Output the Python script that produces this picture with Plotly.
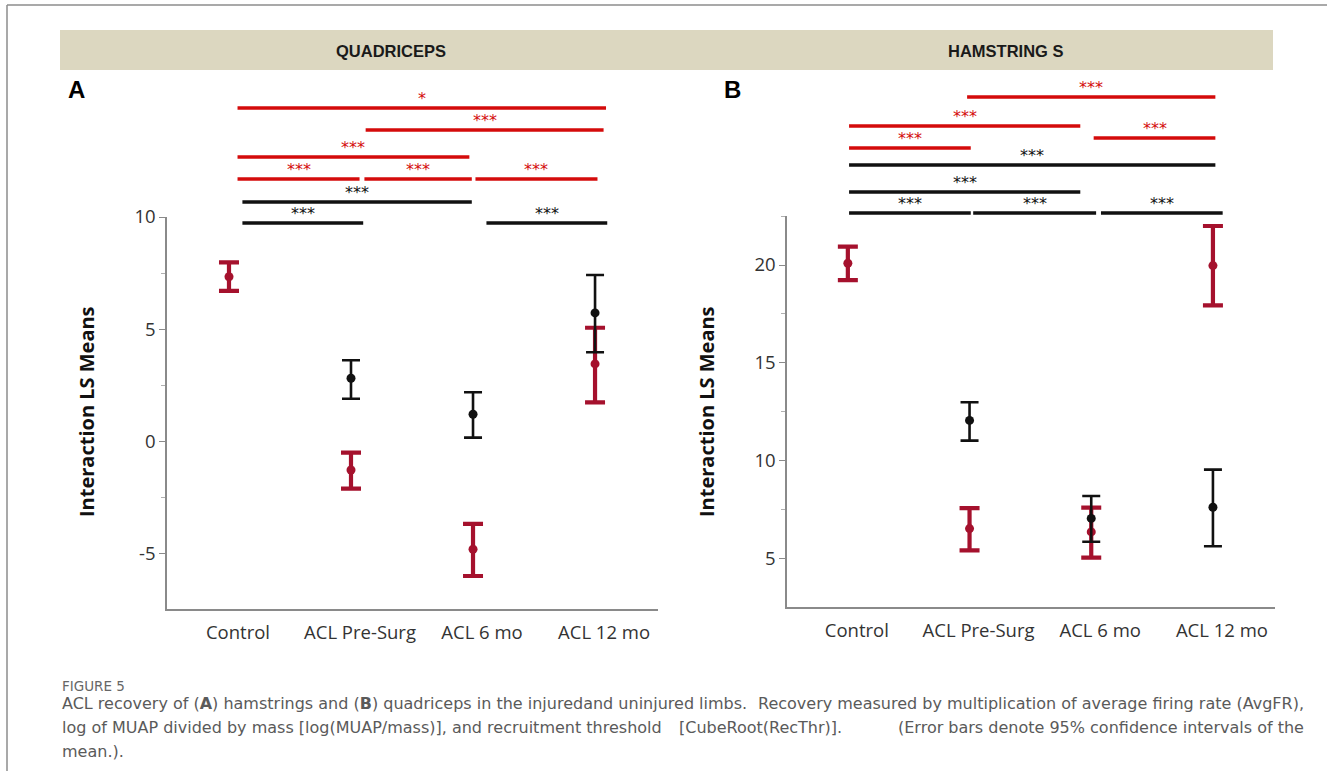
import plotly.graph_objects as go

# ---------------- data ----------------
categories = ["Control", "ACL Pre-Surg", "ACL 6 mo", "ACL 12 mo"]
cat_idx = [0, 1, 2, 3]

# Quadriceps (panel A)
quad_red_mean = [7.34, -1.26, -4.79, 3.46]
quad_red_upper = [7.98, -0.49, -3.66, 5.07]
quad_red_lower = [6.71, -2.09, -5.98, 1.75]
quad_black_idx = [1, 2, 3]
quad_black_mean = [2.82, 1.22, 5.73]
quad_black_upper = [3.62, 2.20, 7.42]
quad_black_lower = [1.91, 0.18, 3.98]

# Hamstrings (panel B)
ham_red_mean = [20.09, 6.55, 6.38, 19.97]
ham_red_upper = [20.94, 7.59, 7.62, 21.99]
ham_red_lower = [19.23, 5.44, 5.07, 17.94]
ham_black_idx = [1, 2, 3]
ham_black_mean = [12.07, 7.07, 7.64]
ham_black_upper = [13.00, 8.21, 9.56]
ham_black_lower = [11.04, 5.88, 5.65]

quad_ticks = [-5, 0, 5, 10]
quad_ticklabels = ["-5", "0", "5", "10"]
ham_ticks = [5, 10, 15, 20]
ham_ticklabels = ["5", "10", "15", "20"]

# significance comparisons: (x start, x end in category units, label, colour key, pixel row)
quad_sig = [
    (0.07, 3.09, "*", "red", 108),
    (1.12, 3.07, "***", "red", 130),
    (0.07, 1.97, "***", "red", 157),
    (0.07, 1.07, "***", "red", 179),
    (1.11, 1.99, "***", "red", 179),
    (2.02, 3.02, "***", "red", 179),
    (0.11, 1.99, "***", "black", 202),
    (0.11, 1.10, "***", "black", 223),
    (2.11, 3.10, "***", "black", 223),
]
ham_sig = [
    (0.98, 3.02, "***", "red", 97),
    (0.01, 1.91, "***", "red", 126),
    (2.02, 3.02, "***", "red", 138),
    (0.01, 1.01, "***", "red", 148),
    (0.01, 3.02, "***", "black", 165),
    (0.01, 1.91, "***", "black", 192),
    (0.01, 1.01, "***", "black", 213),
    (1.03, 2.04, "***", "black", 213),
    (2.08, 3.08, "***", "black", 213),
]

# ---------------- styling ----------------
W, H = 1328, 771
RED = "#a5112d"
BLACK = "#111111"
SIG_COL = {"red": "#d40b0b", "black": "#111111"}
AXIS_COL = "#8a8a8a"
FONT = "Open Sans, DejaVu Sans, sans-serif"
CAP_FONT = "DejaVu Sans, sans-serif"


def px(x):
    return x / W


def py(y):
    return 1 - y / H


fig = go.Figure()


def add_series(xs, mean, upper, lower, color, thick, capw, msize, xa, ya):
    fig.add_trace(go.Scatter(
        x=xs, y=mean, mode="markers", xaxis=xa, yaxis=ya,
        marker=dict(color=color, size=msize),
        error_y=dict(type="data", symmetric=False,
                     array=[u - m for u, m in zip(upper, mean)],
                     arrayminus=[m - l for m, l in zip(mean, lower)],
                     color=color, thickness=thick, width=capw),
        showlegend=False, hoverinfo="skip"))


add_series(cat_idx, quad_red_mean, quad_red_upper, quad_red_lower, RED, 4.2, 10, 9, "x", "y")
add_series(quad_black_idx, quad_black_mean, quad_black_upper, quad_black_lower, BLACK, 2.6, 9, 9, "x", "y")
add_series(cat_idx, ham_red_mean, ham_red_upper, ham_red_lower, RED, 4.2, 10, 9, "x2", "y2")
add_series(ham_black_idx, ham_black_mean, ham_black_upper, ham_black_lower, BLACK, 2.6, 9, 9, "x2", "y2")

shapes = []
annotations = []


def note(text, x, y, size, color, family=FONT, xanchor="center", yanchor="middle", xref="paper", **kw):
    annotations.append(dict(text=text, x=x, y=y, xref=xref, yref="paper", showarrow=False,
                            xanchor=xanchor, yanchor=yanchor,
                            font=dict(family=family, size=size, color=color), **kw))


# outer border (top & left)
shapes.append(dict(type="line", xref="paper", yref="paper", x0=px(7), x1=px(1327), y0=py(5), y1=py(5),
                   line=dict(color="#8c8c8c", width=1.5)))
shapes.append(dict(type="line", xref="paper", yref="paper", x0=px(7), x1=px(7), y0=py(5), y1=0,
                   line=dict(color="#8c8c8c", width=1.5)))
# header band
shapes.append(dict(type="rect", xref="paper", yref="paper", x0=px(60), x1=px(1273), y0=py(70), y1=py(30),
                   fillcolor="#dcd7c0", line=dict(width=0), layer="below"))
NARROW = "Liberation Sans Narrow, Arial Narrow, sans-serif"
note("<b>QUADRICEPS</b>", px(391), py(51), 16.5, "#1a1a1a", family=NARROW)
note("<b>HAMSTRING S</b>", px(1006), py(51), 16.5, "#1a1a1a", family=NARROW)
# panel letters
note("<b>A</b>", px(76), py(89), 24, "#000", family="Liberation Sans, Arial, sans-serif")
note("<b>B</b>", px(732), py(89), 24, "#000", family="Liberation Sans, Arial, sans-serif")
# y-axis titles
note("<b>Interaction LS Means</b>", px(86), py(412), 20, "#111", textangle=-90)
note("<b>Interaction LS Means</b>", px(706), py(411), 20, "#111", textangle=-90)

# significance bars
for sig, xr in ((quad_sig, "x"), (ham_sig, "x2")):
    for x0, x1, lab, ck, row in sig:
        shapes.append(dict(type="line", xref=xr, yref="paper", x0=x0, x1=x1, y0=py(row), y1=py(row),
                           line=dict(color=SIG_COL[ck], width=3.6)))
        note(lab, (x0 + x1) / 2, py(row + 2), 16, SIG_COL[ck], family="DejaVu Sans, sans-serif",
             yanchor="bottom", xref=xr)

# caption
CAP_COL = "#5a5a5a"
CAP_SIZE = 16
note("FIGURE 5", px(60), py(686), 13.5, "#666", family=CAP_FONT, xanchor="left")
cap_chunks = [
    ("ACL recovery of (<b>A</b>) hamstrings and (<b>B</b>) quadriceps in the injuredand uninjured limbs.",
     60, "left", 703),
    ("Recovery measured by multiplication of average firing rate (AvgFR),", 1306, "right", 703),
    ("log of MUAP divided by mass [log(MUAP/mass)], and recruitment threshold", 60, "left", 727),
    ("[CubeRoot(RecThr)].", 677, "left", 727),
    ("(Error bars denote 95% confidence intervals of the", 1306, "right", 727),
    ("mean.).", 60, "left", 751),
]
for txt, xx, anc, yy in cap_chunks:
    note(txt, px(xx), py(yy), CAP_SIZE, CAP_COL, family=CAP_FONT, xanchor=anc)

xcommon = dict(tickvals=cat_idx, ticktext=categories, showline=True, linecolor=AXIS_COL, linewidth=1.5,
               ticks="outside", ticklen=6, tickcolor="rgba(0,0,0,0)", showgrid=False, zeroline=False,
               ticklabelshift=9, automargin=False,
               tickfont=dict(family=FONT, size=18.5, color="#333"), fixedrange=True)
ycommon = dict(showline=True, linecolor=AXIS_COL, linewidth=1.5, ticks="outside", ticklen=6,
               tickcolor=AXIS_COL, showgrid=False, zeroline=False, automargin=False,
               tickfont=dict(family=FONT, size=18.5, color="#333"), fixedrange=True)

fig.update_layout(
    template="none",
    width=W, height=H, margin=dict(l=0, r=0, t=0, b=0, pad=0, autoexpand=False),
    paper_bgcolor="white", plot_bgcolor="white",
    xaxis=dict(domain=[px(167), px(658)], range=[-0.508, 3.516], anchor="y", **xcommon),
    yaxis=dict(domain=[py(609), py(217)], range=[-7.45, 10.0], anchor="x",
               tickvals=quad_ticks, ticktext=quad_ticklabels,
               minor=dict(tickvals=[-7.5, -2.5, 2.5, 7.5], ticks="outside", ticklen=4, tickcolor="#b0b0b0"),
               **ycommon),
    xaxis2=dict(domain=[px(787), px(1275)], range=[-0.50, 3.51], anchor="y2", **xcommon),
    yaxis2=dict(domain=[py(607), py(216)], range=[2.55, 22.5], anchor="x2",
                tickvals=ham_ticks, ticktext=ham_ticklabels,
                minor=dict(tickvals=[2.5, 7.5, 12.5, 17.5, 22.5], ticks="outside", ticklen=4,
                           tickcolor="#b0b0b0"),
                **ycommon),
    shapes=shapes, annotations=annotations,
)

fig.write_html("out.html")
